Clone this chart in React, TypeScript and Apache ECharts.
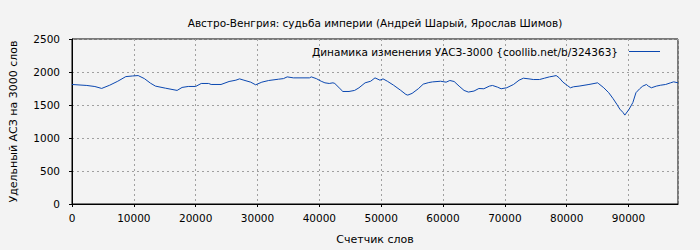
import React, { useEffect, useRef } from "react";
import * as echarts from "echarts";

const titleText = "Австро-Венгрия: судьба империи (Андрей Шарый, Ярослав Шимов)";
const seriesName = "Динамика изменения УАСЗ-3000 {coollib.net/b/324363}";
const xName = "Счетчик слов";
const yName = "Удельный АСЗ на 3000 слов";

const wordCounts = [
  0, 2400, 3700, 4800, 6100, 7400, 8700, 9800, 10700, 11700, 12700, 13500, 15100, 17000, 17800,
  18800, 20000, 20900, 22100, 22500, 24100, 25400, 26500, 27100, 27800, 28900, 29700, 30700,
  31800, 33400, 34200, 34800, 35800, 38400, 38700, 39500, 40300, 40900, 41600, 42200, 42500,
  43200, 43800, 44800, 45700, 46400, 47400, 48300, 49000, 49800, 50300, 51000, 52000, 53100,
  54000, 54300, 55000, 56000, 56800, 57700, 58300, 59600, 60500, 61100, 61800, 62600, 63400,
  64100, 65000, 65800, 66600, 67500, 68000, 68800, 69400, 70300, 71400, 72300, 73000, 73900,
  74600, 75600, 76400, 77200, 77800, 78300, 78800, 79400, 80100, 80600, 81100, 82000, 83600,
  85000, 85200, 86000, 86800, 87500, 88100, 88600, 89100, 89400, 90100, 90700, 91200, 91800,
  92300, 92900, 93200, 93700, 94500, 95200, 96000, 96800, 97300, 98000,
];

const uasValues = [
  1811, 1796, 1780, 1751, 1800, 1860, 1930, 1940, 1946, 1900, 1830, 1786, 1755, 1721, 1766,
  1781, 1781, 1826, 1826, 1811, 1811, 1856, 1876, 1896, 1876, 1846, 1806, 1846,
  1871, 1891, 1900, 1926, 1911, 1911, 1926, 1900, 1860, 1836, 1826, 1836, 1826,
  1761, 1705, 1705, 1721, 1760, 1836, 1860, 1911, 1876, 1896, 1860, 1800, 1726,
  1660, 1650, 1676, 1746, 1816, 1840, 1850, 1860, 1846, 1871, 1856, 1786, 1721,
  1696, 1711, 1750, 1746, 1786, 1796, 1771, 1746, 1761, 1811, 1876, 1906, 1896,
  1886, 1886, 1906, 1926, 1936, 1946, 1911, 1846, 1796, 1761, 1776, 1786, 1811,
  1836, 1821, 1761, 1686, 1597, 1512, 1437, 1388, 1347, 1437, 1537, 1686, 1746,
  1786, 1811, 1786, 1761, 1786, 1800, 1811, 1836, 1851, 1836,
];

const xMax = 98000;
const yMax = 2500;

export default function App() {
  const ref = useRef<HTMLDivElement>(null);
  useEffect(() => {
    document.body.style.margin = "0";
    if (!ref.current) return;
    const chart = echarts.init(ref.current, null, { renderer: "svg" });
    const font = "DejaVu Sans";
    chart.setOption({
      animation: false,
      backgroundColor: "#f3f3f3",
      textStyle: { fontFamily: font },
      title: {
        text: titleText,
        left: 370,
        textAlign: "center",
        top: 12,
        textStyle: { fontSize: 10.5, fontWeight: "normal", color: "#000", fontFamily: font },
      },
      legend: {
        show: true,
        right: 35,
        top: 41,
        align: "right",
        icon: "rect",
        itemWidth: 31,
        itemHeight: 1,
        itemGap: 0,
        textStyle: { fontSize: 10.5, color: "#000", fontFamily: font, padding: [0, 6, 0, 0] },
        data: [seriesName],
      },
      grid: {
        left: 67,
        right: 22,
        top: 39,
        bottom: 44,
        show: true,
        borderColor: "#000",
        borderWidth: 1,
        backgroundColor: "transparent",
      },
      xAxis: {
        type: "value",
        min: 0,
        max: xMax,
        interval: 10000,
        name: xName,
        nameLocation: "middle",
        nameGap: 30,
        nameTextStyle: { fontSize: 11, color: "#000", fontFamily: font },
        axisLine: { show: true, lineStyle: { color: "#000", width: 1 } },
        axisTick: { show: true, length: 3, lineStyle: { color: "#000" } },
        axisLabel: {
          fontSize: 10.5,
          color: "#000",
          margin: 8,
          showMaxLabel: false,
          fontFamily: font,
          formatter: (v: number) => String(v),
        },
        splitLine: { show: true, lineStyle: { color: "#a0a0a0", type: [2, 3], width: 1 } },
      },
      yAxis: {
        type: "value",
        min: 0,
        max: yMax,
        interval: 500,
        name: yName,
        nameLocation: "middle",
        nameGap: 53,
        nameRotate: 90,
        nameTextStyle: { fontSize: 11, color: "#000", fontFamily: font },
        axisLine: { show: true, lineStyle: { color: "#000", width: 1 } },
        axisTick: { show: true, length: 3, lineStyle: { color: "#000" } },
        axisLabel: {
          fontSize: 10.5,
          color: "#000",
          margin: 12,
          fontFamily: font,
          formatter: (v: number) => String(v),
        },
        splitLine: { show: true, lineStyle: { color: "#a0a0a0", type: [2, 3], width: 1 } },
      },
      series: [
        {
          name: seriesName,
          type: "line",
          symbol: "none",
          color: "#0a47b0",
          lineStyle: { color: "#0a47b0", width: 1 },
          data: wordCounts.map((w, i) => [w, uasValues[i]]),
        },
      ],
    });
    return () => chart.dispose();
  }, []);
  return <div ref={ref} style={{ width: 700, height: 250 }} />;
}
